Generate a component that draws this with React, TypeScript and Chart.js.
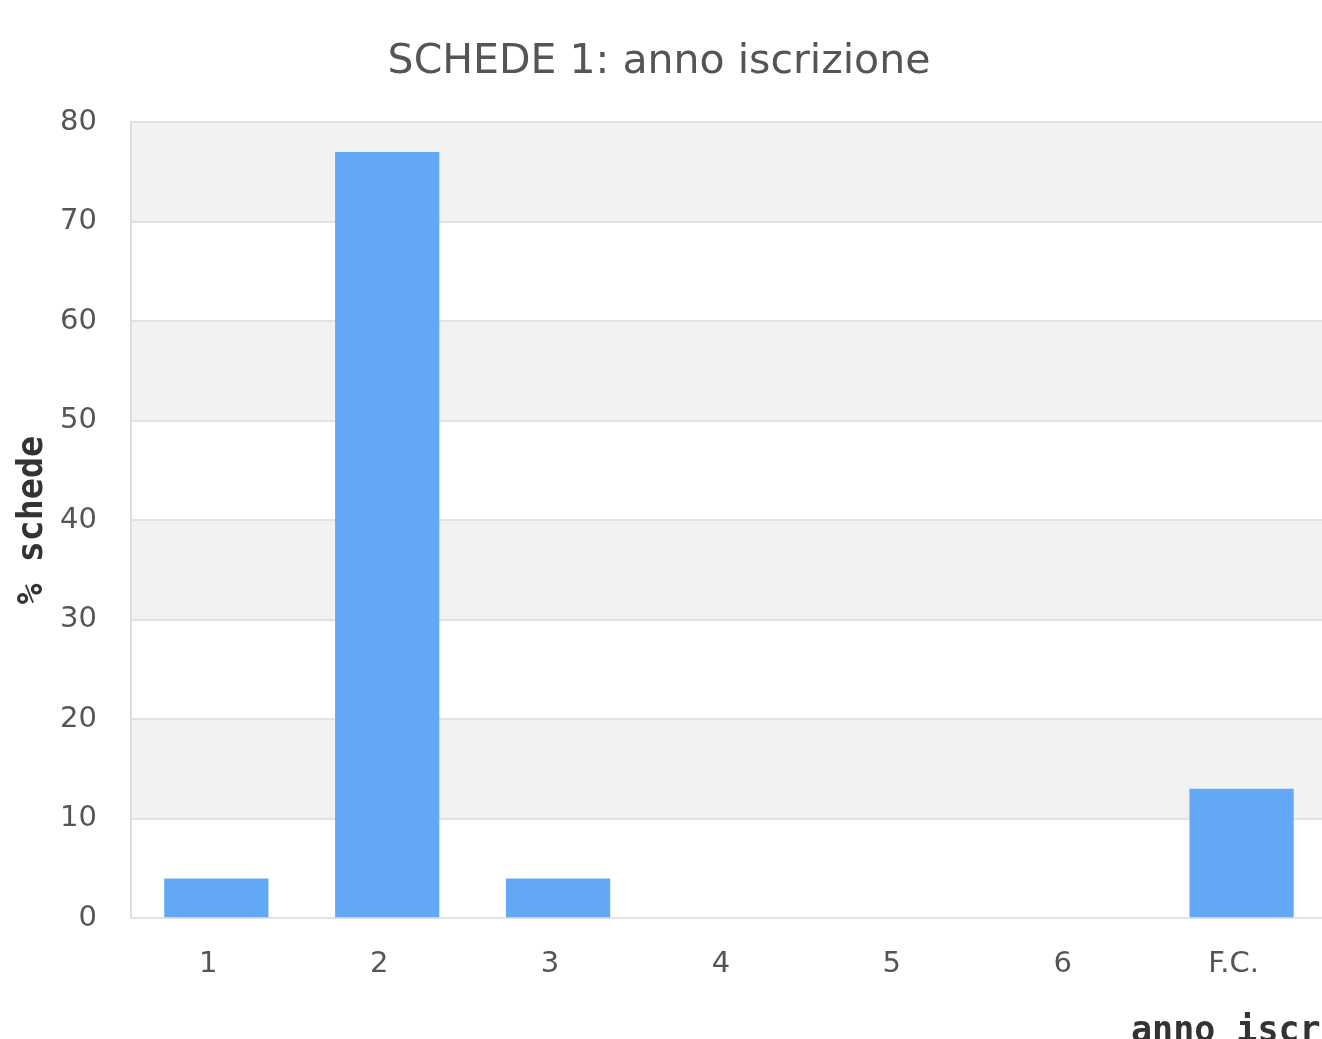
import React, { useEffect, useRef } from "react";
import { Chart, registerables } from "chart.js";

Chart.register(...registerables);

const categories = ["1", "2", "3", "4", "5", "6", "F.C."];
const percentages = [4, 77, 4, 0, 0, 0, 13];
const chartTitle = "SCHEDE 1: anno iscrizione";
const yAxisTitle = "% schede";
const xAxisTitle = "anno iscrizione";
const yMin = 0;
const yMax = 80;
const yStep = 10;

const CANVAS_W = 1336;
const CANVAS_H = 1060;

const bandsPlugin = {
  id: "bands",
  beforeDraw(chart: any) {
    const { ctx, chartArea, scales } = chart;
    const y = scales.y;
    const ticks = y.ticks;
    ctx.save();
    for (let k = 0; k < ticks.length - 1; k++) {
      if (k % 2 === 1) {
        const y0 = y.getPixelForValue(ticks[k].value);
        const y1 = y.getPixelForValue(ticks[k + 1].value);
        ctx.fillStyle = "#f2f2f2";
        ctx.fillRect(chartArea.left, y1, chartArea.right - chartArea.left, y0 - y1);
      }
    }
    ctx.restore();
  },
};

const xTitlePlugin = {
  id: "xTitle",
  afterDraw(chart: any) {
    const { ctx, chartArea } = chart;
    ctx.save();
    ctx.font = "bold 35px 'DejaVu Sans Mono'";
    ctx.fillStyle = "#333";
    ctx.textAlign = "left";
    ctx.textBaseline = "alphabetic";
    ctx.fillText(xAxisTitle, chartArea.right - 196, chartArea.bottom + 123);
    ctx.restore();
  },
};

export default function App() {
  const ref = useRef<HTMLCanvasElement>(null);
  useEffect(() => {
    if (!ref.current) return;
    const chart = new Chart(ref.current, {
      type: "bar",
      data: {
        labels: categories,
        datasets: [
          {
            data: percentages,
            backgroundColor: "#62a8f4",
            borderWidth: 0,
            barPercentage: 0.61,
            categoryPercentage: 1,
          },
        ],
      },
      options: {
        animation: false,
        responsive: false,
        devicePixelRatio: 1,
        layout: { padding: { left: 0, right: 0, top: 0, bottom: 57 } },
        plugins: {
          legend: { display: false },
          tooltip: { enabled: false },
          title: {
            display: true,
            text: chartTitle,
            color: "#555",
            font: { family: "'DejaVu Sans'", size: 41, weight: "normal", lineHeight: 1.2 },
            padding: { top: 38, bottom: 35 },
          },
        },
        scales: {
          x: {
            grid: { display: false },
            border: { display: false },
            ticks: {
              color: "#555",
              font: { family: "'DejaVu Sans'", size: 29 },
              padding: 21,
              labelOffset: -8,
              maxRotation: 0,
            },
          },
          y: {
            min: yMin,
            max: yMax,
            grid: { color: "#e2e2e2", lineWidth: 2, drawTicks: false },
            border: { display: true, color: "#dddddd", width: 2 },
            ticks: {
              stepSize: yStep,
              color: "#555",
              font: { family: "'DejaVu Sans'", size: 29 },
              padding: 34,
            },
            title: {
              display: true,
              text: yAxisTitle,
              color: "#333",
              font: { family: "'DejaVu Sans Mono'", size: 35, weight: "bold", lineHeight: 1.2 },
              padding: { top: 21, bottom: -28 },
            },
          },
        },
      },
      plugins: [bandsPlugin, xTitlePlugin],
    });
    return () => chart.destroy();
  }, []);
  return (
    <div
      style={{
        position: "fixed",
        left: 0,
        top: 0,
        width: 1322,
        height: 1039,
        overflow: "hidden",
        background: "#fff",
      }}
    >
      <canvas
        ref={ref}
        width={CANVAS_W}
        height={CANVAS_H}
        style={{ position: "absolute", left: -9, top: 0, width: CANVAS_W, height: CANVAS_H }}
      />
    </div>
  );
}
